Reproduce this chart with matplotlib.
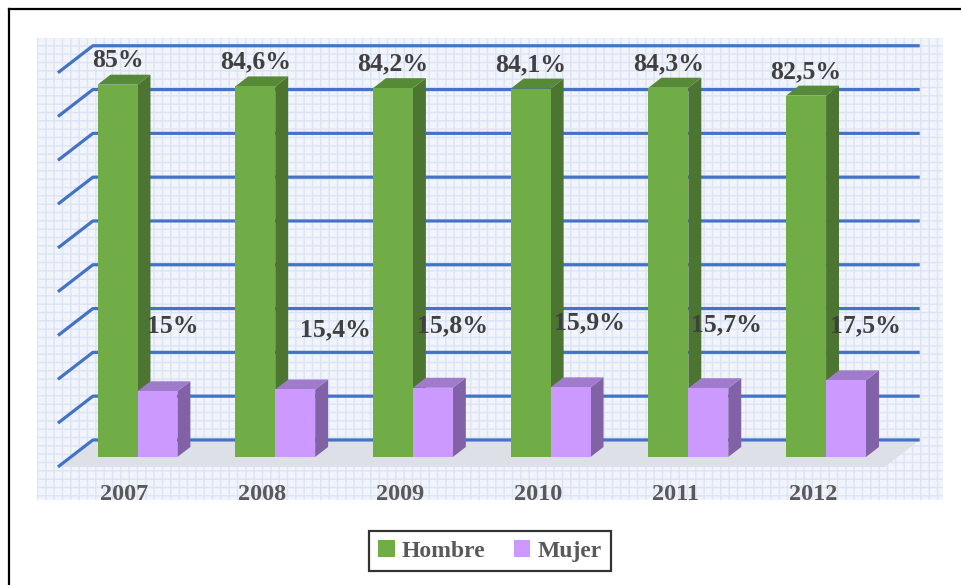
import matplotlib
matplotlib.use("Agg")
import matplotlib.pyplot as plt
from matplotlib.patches import Polygon, Patch
from matplotlib.lines import Line2D

# data
years = ["2007", "2008", "2009", "2010", "2011", "2012"]
hombre = [85.0, 84.6, 84.2, 84.1, 84.3, 82.5]
mujer = [15.0, 15.4, 15.8, 15.9, 15.7, 17.5]
hombre_labels = ["85%", "84,6%", "84,2%", "84,1%", "84,3%", "82,5%"]
mujer_labels = ["15%", "15,4%", "15,8%", "15,9%", "15,7%", "17,5%"]
grid_values = [0, 10, 20, 30, 40, 50, 60, 70, 80, 90]

# small nudges for the Mujer labels (x in groups, y in %)
mujer_nudge_x = [0.11, 0.29, 0.14, 0.14, 0.13, 0.14]
mujer_nudge_y = [32.0, 31.2, 32.2, 32.9, 32.4, 32.2]

# fake 3d projection
DX, DY = 0.254, 6.16
Z0, Z1 = 0.37, 0.74
W = 0.29


def proj(x, y, z):
    return (x + z * DX, y + z * DY)


def box(ax, x0, x1, h, c_front, c_side, c_top):
    front = [proj(x0, 0, Z0), proj(x1, 0, Z0), proj(x1, h, Z0), proj(x0, h, Z0)]
    side = [proj(x1, 0, Z0), proj(x1, 0, Z1), proj(x1, h, Z1), proj(x1, h, Z0)]
    top = [proj(x0, h, Z0), proj(x1, h, Z0), proj(x1, h, Z1), proj(x0, h, Z1)]
    ax.add_patch(Polygon(side, closed=True, facecolor=c_side, edgecolor="none", zorder=3))
    ax.add_patch(Polygon(top, closed=True, facecolor=c_top, edgecolor="none", zorder=3))
    ax.add_patch(Polygon(front, closed=True, facecolor=c_front, edgecolor="none", zorder=3))


plt.rcParams["font.family"] = ["Liberation Serif", "DejaVu Serif"]

fig = plt.figure(figsize=(9.61, 5.85), dpi=100)
ax = fig.add_axes([37 / 961, 85 / 585, 906 / 961, 462 / 585])
ax.set_xlim(-0.636, 5.943)
ax.set_ylim(-7.55, 97.93)
ax.axis("off")

# patterned background
ax.add_patch(plt.Rectangle((-0.636, -7.55), 6.579, 105.48, facecolor="#F1F4FB",
                           edgecolor="#DCE4F6", hatch="++", lw=0, zorder=0))

x_left, x_right = -0.484, 5.52

# floor
floor = [proj(x_left, 0, 0), proj(x_right, 0, 0), proj(x_right, 0, 1), proj(x_left, 0, 1)]
ax.add_patch(Polygon(floor, closed=True, facecolor="#DEE0E8", edgecolor="none", zorder=1))

# gridlines (left diagonal + back wall)
for v in grid_values:
    a = proj(x_left, v, 0)
    b = proj(x_left, v, 1)
    c = proj(x_right, v, 1)
    ax.plot([a[0], b[0], c[0]], [a[1], b[1], c[1]], color="#4472C4", lw=2.3,
            solid_capstyle="butt", zorder=2)

for i in range(len(years)):
    box(ax, i - W, i, hombre[i], "#70AD47", "#4B7530", "#568A37")
    box(ax, i, i + W, mujer[i], "#CC99FF", "#8262A6", "#A07BCB")

    gx, gy = proj(i - W / 2, hombre[i], Z0)
    ax.text(gx, gy + 5.5, hombre_labels[i], ha="center", va="center",
            fontsize=18.5, fontweight="bold", color="#404040", zorder=5)

    px, _ = proj(i + W / 2, 0, Z0)
    ax.text(px + mujer_nudge_x[i], mujer_nudge_y[i], mujer_labels[i], ha="center",
            va="center", fontsize=18.5, fontweight="bold", color="#404040", zorder=5)

    cx, _ = proj(i, 0, 0)
    ax.text(cx, -6.2, years[i], ha="center", va="center", fontsize=17.5,
            fontweight="bold", color="#595959", zorder=5)

# legend
handles = [Patch(facecolor="#70AD47", label="Hombre"),
           Patch(facecolor="#CC99FF", label="Mujer")]
leg = fig.legend(handles=handles, loc="center", bbox_to_anchor=(490 / 961, 1 - 551 / 585),
                 ncol=2, frameon=True, fancybox=False, edgecolor="black",
                 handlelength=0.7, handleheight=0.7, handletextpad=0.3,
                 columnspacing=1.2, borderpad=0.4, prop={"weight": "bold", "size": 17})
leg.get_frame().set_linewidth(1.6)
for t in leg.get_texts():
    t.set_color("#595959")

# outer border (left and top sides visible)
fig.add_artist(Line2D([8.5 / 961, 8.5 / 961], [0, 1 - 8.5 / 585], transform=fig.transFigure,
                      color="black", lw=1.6))
fig.add_artist(Line2D([8.5 / 961, 1], [1 - 8.5 / 585, 1 - 8.5 / 585], transform=fig.transFigure,
                      color="black", lw=1.6))

fig.savefig("out.png", dpi=100)
